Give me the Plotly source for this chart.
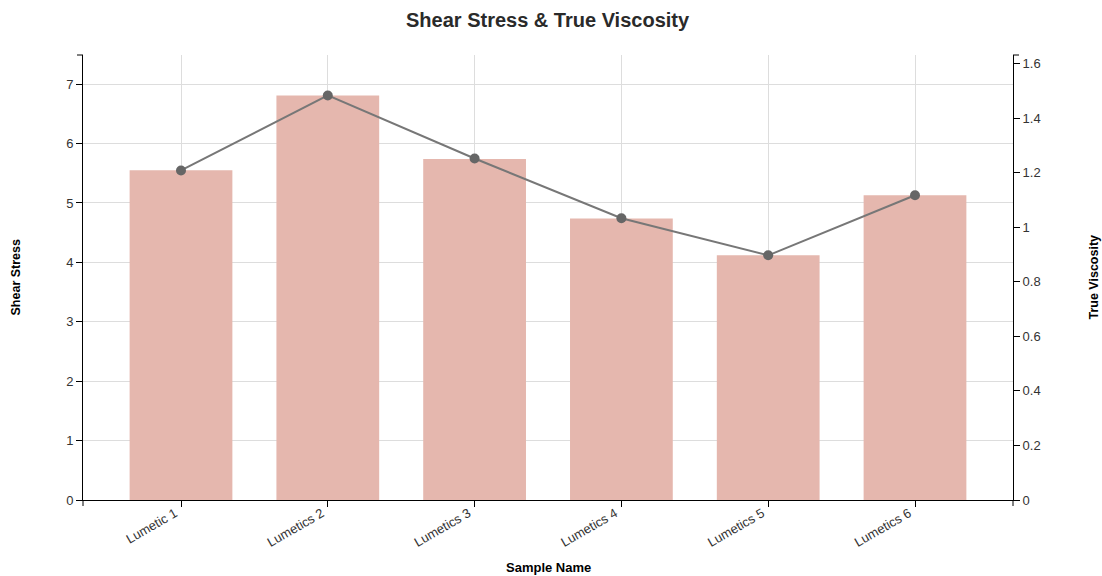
import plotly.graph_objects as go

samples = ["Lumetic 1", "Lumetics 2", "Lumetics 3", "Lumetics 4", "Lumetics 5", "Lumetics 6"]
shear_stress = [5.55, 6.81, 5.74, 4.74, 4.12, 5.13]
true_viscosity = [1.208, 1.483, 1.252, 1.033, 0.897, 1.117]

FONT = "Liberation Sans, Arial, sans-serif"
W, H = 1102, 576
L, T = 83, 55
R, B = W - 1013, H - 500
PW, PH = W - L - R, H - T - B

fig = go.Figure()
fig.add_trace(go.Bar(
    x=samples, y=shear_stress, name="Shear Stress",
    marker=dict(color="#e5b7ae", line=dict(width=0)),
    width=0.7, yaxis="y",
))
fig.add_trace(go.Scatter(
    x=samples, y=true_viscosity, name="True Viscosity",
    mode="lines+markers",
    line=dict(color="#777777", width=2),
    marker=dict(color="#666666", size=10),
    yaxis="y2",
))

n = len(samples)
fig.update_layout(
    width=W, height=H,
    margin=dict(l=L, r=R, t=T, b=B, autoexpand=False),
    paper_bgcolor="white", plot_bgcolor="white",
    showlegend=False,
    font=dict(family=FONT, size=13, color="#333333"),
    xaxis=dict(
        range=[-0.6676, n - 1 + 0.6676], automargin=False,
        showgrid=True, gridcolor="#dddddd", gridwidth=1,
        showline=True, linecolor="#000000", linewidth=1,
        ticks="outside", ticklen=6, tickcolor="#000000",
        tickangle=-30, tickfont=dict(size=13, color="#333333"),
        ticklabelstandoff=-6, ticklabelshift=-6,
        zeroline=False,
    ),
    yaxis=dict(
        range=[0, max(shear_stress) * 1.1], automargin=False,
        dtick=1, showgrid=True, gridcolor="#dddddd", gridwidth=1,
        showline=True, linecolor="#000000", linewidth=1,
        ticks="outside", ticklen=6, tickcolor="#000000",
        tickfont=dict(size=13, color="#333333"),
        zeroline=False,
    ),
    yaxis2=dict(
        range=[0, max(true_viscosity) * 1.1], automargin=False,
        dtick=0.2, overlaying="y", side="right",
        showgrid=False,
        showline=True, linecolor="#000000", linewidth=1,
        ticks="outside", ticklen=6, tickcolor="#000000",
        tickfont=dict(size=13, color="#333333"),
        zeroline=False,
    ),
)

ann = []
ann.append(dict(text="<b>Shear Stress & True Viscosity</b>", xref="paper", yref="paper",
                x=0.5, y=1 + (T - 20) / PH, xanchor="center", yanchor="middle",
                showarrow=False, font=dict(size=20, color="#2a2a2a")))
ann.append(dict(text="<b>Sample Name</b>", xref="paper", yref="paper",
                x=0.5, y=-(567 - (T + PH)) / PH, xanchor="center", yanchor="middle",
                showarrow=False, font=dict(size=13, color="#000000")))
ann.append(dict(text="<b>Shear Stress</b>", xref="paper", yref="paper",
                x=-(L - 15) / PW, y=0.5, xanchor="center", yanchor="middle", textangle=-90,
                showarrow=False, font=dict(size=12.5, color="#000000")))
ann.append(dict(text="<b>True Viscosity</b>", xref="paper", yref="paper",
                x=1 + (1093 - (L + PW)) / PW, y=0.5, xanchor="center", yanchor="middle",
                textangle=-90, showarrow=False, font=dict(size=12.5, color="#000000")))
fig.update_layout(annotations=ann)

# d3-style outer end ticks on the axis domains
line_style = dict(color="#000000", width=1)
shapes = [
    dict(type="line", xref="paper", yref="paper", x0=0, x1=0, y0=0, y1=-6 / PH, line=line_style),
    dict(type="line", xref="paper", yref="paper", x0=1, x1=1, y0=0, y1=-6 / PH, line=line_style),
    dict(type="line", xref="paper", yref="paper", x0=0, x1=-6 / PW, y0=1, y1=1, line=line_style),
    dict(type="line", xref="paper", yref="paper", x0=1, x1=1 + 6 / PW, y0=1, y1=1, line=line_style),
]
fig.update_layout(shapes=shapes)

fig.write_html(
    "out.html",
    config={"displayModeBar": False},
    post_script="document.body.style.margin='0';document.body.style.overflow='hidden';"
                "document.documentElement.style.overflow='hidden';",
)
